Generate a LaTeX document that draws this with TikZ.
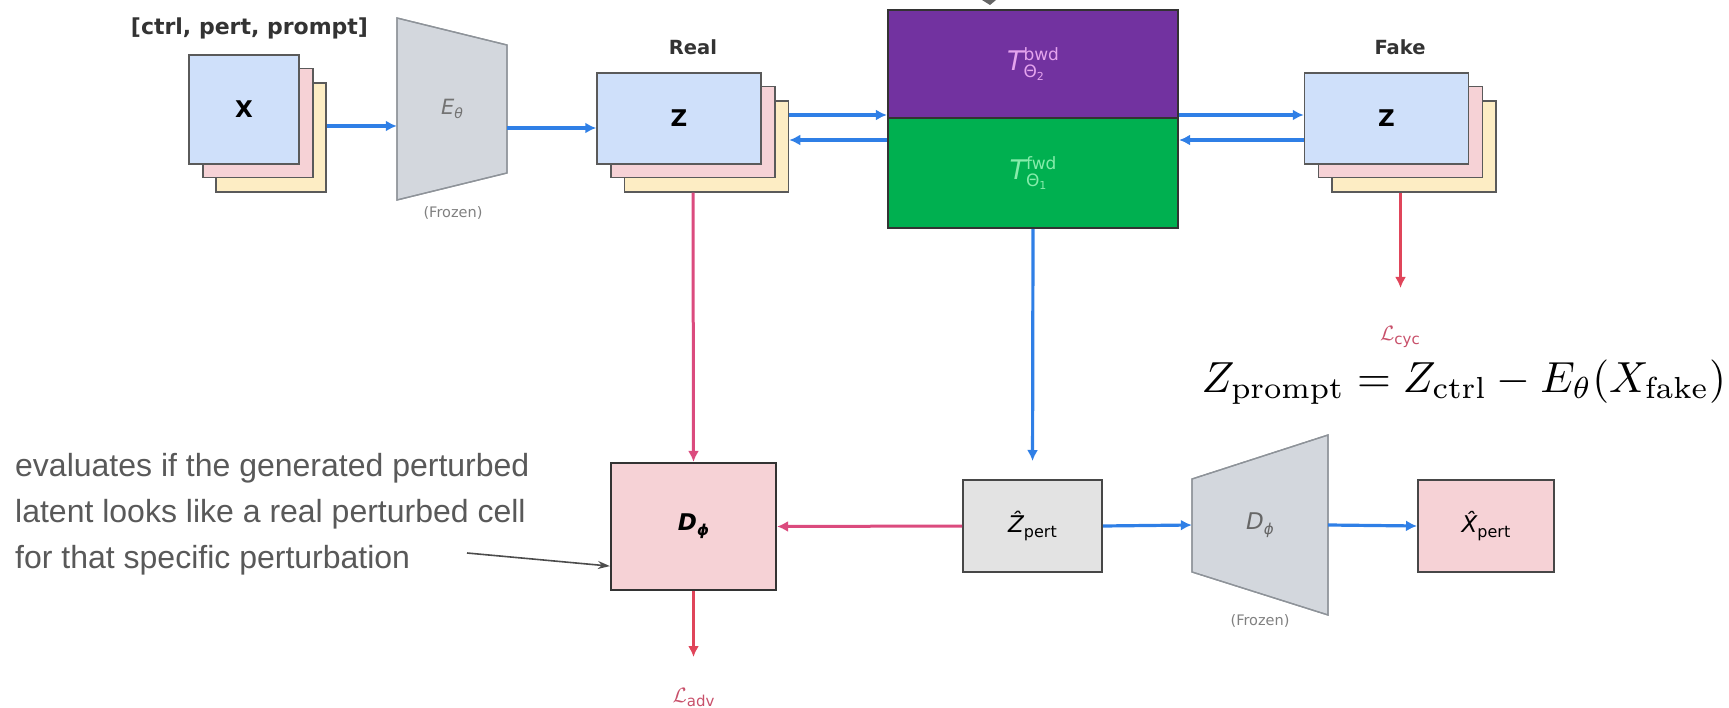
\documentclass[tikz,border=0pt]{standalone}
\usepackage{fontspec}
\usetikzlibrary{arrows.meta,calc}
\newfontfamily\dejavu{DejaVu Sans}
\newfontfamily\arialf{Liberation Sans}
\newcommand{\fs}[1]{\fontsize{#1}{#1}\selectfont}
\definecolor{cblue}{HTML}{CFE0FA}
\definecolor{cpink}{HTML}{F6D2D6}
\definecolor{cyel}{HTML}{FDEDC4}
\definecolor{bord}{HTML}{5A5A5A}
\definecolor{trapfill}{HTML}{D3D7DD}
\definecolor{trapdraw}{HTML}{8E9399}
\definecolor{tpurple}{HTML}{7232A0}
\definecolor{tgreen}{HTML}{00B050}
\definecolor{arrblue}{HTML}{2F7FE6}
\definecolor{arrpink}{HTML}{DB4B7E}
\definecolor{arrred}{HTML}{E0455A}
\definecolor{lossc}{HTML}{C8506A}
\definecolor{lblbwd}{HTML}{E5A4EE}
\definecolor{lblfwd}{HTML}{86ECAB}
\definecolor{notegray}{HTML}{595959}
\begin{document}
\begin{tikzpicture}[x=1pt,y=-1pt,
  layer/.style={draw=bord, line width=1.5pt, inner sep=0pt},
  stk/.style={layer, minimum width=164pt, minimum height=91pt},
  xstk/.style={layer, minimum width=110pt, minimum height=109pt},
  trap/.style={fill=trapfill, draw=trapdraw, line width=1.3pt},
  sbox/.style={draw=black!80, line width=2.2pt, inner sep=0pt},
  barrow/.style={draw=arrblue, line width=3.2pt, -{Latex[length=11pt,width=11pt]}},
  parrow/.style={draw=arrpink, line width=3pt, -{Latex[length=11pt,width=11pt]}},
  rarrow/.style={draw=arrred, line width=3pt, -{Latex[length=11pt,width=11pt]}},
  notearrow/.style={draw=black!70, line width=1.6pt, -{Stealth[length=12pt,width=8pt]}},
  boldlbl/.style={font=\dejavu\bfseries\fs{22}, text=black!80},
  frozen/.style={font=\dejavu\fs{14.5}, text=black!50},
  losslbl/.style={text=lossc, font=\fs{21}, inner sep=0pt},
  notetxt/.style={font=\arialf\fs{32}, text=notegray, anchor=base west, inner sep=0pt}
]
\useasboundingbox (0,0) rectangle (1729,708);

% rows
\coordinate (r1) at (0,126);
\coordinate (r2) at (0,128);
\coordinate (r3) at (0,115);
\coordinate (r4) at (0,140);

% input stack X
\node[boldlbl] (lblin) at (249.5,28) {[ctrl, pert, prompt]};
\node[xstk, fill=cyel] (x3) at (271,137.5) {};
\node[xstk, fill=cpink] (x2) at (258,123) {};
\node[xstk, fill=cblue, font=\dejavu\bfseries\fs{23}] (x1) at (244,109.5) {X};

% encoder
\fill[trap] (397,18) -- (507,45) -- (507,173) -- (397,200) -- cycle;
\draw[trap, fill=none] (397,18) -- (507,45) -- (507,173) -- (397,200) -- cycle;
\node[minimum width=110pt, minimum height=128pt, inner sep=0pt, text=black!55] (enc) at (452,109)
  {\dejavu\fs{21}\itshape E\raisebox{-4pt}{\fs{14}θ}};
\node[frozen] (frz1) at (453,213) {(Frozen)};

% real stack
\node[boldlbl, font=\dejavu\bfseries\fs{19.5}] (lblreal) at (693,47) {Real};
\node[stk, fill=cyel] (z3) at (706.5,146.5) {};
\node[stk, fill=cpink] (z2) at (693,132) {};
\node[stk, fill=cblue, font=\dejavu\bfseries\fs{23}] (z1) at (679,118.5) {Z};

% transformer blocks
\node[sbox, fill=tpurple, minimum width=290pt, minimum height=108pt, text=lblbwd] (tb) at (1033,64)
  {\dejavu\fs{27}\itshape T\upshape\rlap{\raisebox{-7pt}{\fs{17}Θ\raisebox{-3pt}{\fs{11}2}}}\raisebox{10pt}{\fs{17}bwd}};
\node[sbox, fill=tgreen, minimum width=290pt, minimum height=110pt, text=lblfwd] (tf) at (1033,173)
  {\dejavu\fs{27}\itshape T\upshape\rlap{\raisebox{-7pt}{\fs{17}Θ\raisebox{-3pt}{\fs{11}1}}}\raisebox{10pt}{\fs{17}fwd}};

% fake stack
\node[boldlbl, font=\dejavu\bfseries\fs{19.5}] (lblfake) at (1400,47) {Fake};
\node[stk, fill=cyel] (f3) at (1414,146.5) {};
\node[stk, fill=cpink] (f2) at (1400.5,132) {};
\node[stk, fill=cblue, font=\dejavu\bfseries\fs{23}] (f1) at (1386.5,118.5) {Z};

% bottom row
\node[sbox, draw=black!80, fill=cpink, minimum width=165pt, minimum height=127pt] (dphi) at (693.5,526.5)
  {\dejavu\fs{23}\bfseries\itshape D\raisebox{-5pt}{\fs{15}ϕ}};
\node[sbox, draw=black!72, line width=2pt, fill=black!11, minimum width=139pt, minimum height=92pt] (zp) at (1032.5,526)
  {\dejavu\fs{23}\itshape Ẑ\upshape\raisebox{-5pt}{\fs{16}pert}};
\fill[trap] (1192,479) -- (1328,435) -- (1328,615) -- (1192,572) -- cycle;
\draw[trap, fill=none] (1192,479) -- (1328,435) -- (1328,615) -- (1192,572) -- cycle;
\node[minimum width=136pt, minimum height=93pt, inner sep=0pt, text=black!60] (dec) at (1260,525)
  {\dejavu\fs{23}\itshape D\raisebox{-5pt}{\fs{15}ϕ}};
\node[frozen] (frz2) at (1260,621) {(Frozen)};
\node[sbox, draw=black!72, line width=2pt, fill=cpink, minimum width=136pt, minimum height=92pt] (xp) at (1486,526)
  {\dejavu\fs{23}\itshape X̂\upshape\raisebox{-5pt}{\fs{16}pert}};

% losses
\coordinate (lcyctip) at (1400.5,288);
\node[losslbl] (lcyc) at (1400,337) {$\mathcal{L}$\raisebox{-4pt}{\dejavu\fs{15}cyc}};
\coordinate (ladvtip) at (693.5,657);
\node[losslbl] (ladv) at (693.5,698) {$\mathcal{L}$\raisebox{-4pt}{\dejavu\fs{15}adv}};

% equation
\node[anchor=base east, scale=4.35, inner sep=0pt] (eq) at (1727,392)
  {$Z_{\mathrm{prompt}} = Z_{\mathrm{ctrl}} - E_\theta(X_{\mathrm{fake}})$};

% annotation
\node[notetxt] (note1) at (15,476) {evaluates if the generated perturbed};
\node[notetxt] (note2) at (15,522) {latent looks like a real perturbed cell};
\node[notetxt] (note3) at (15,568) {for that specific perturbation};
\coordinate (notetail) at (467,553);

% cut-off arrow tip at the top
\fill[black!60] (982,0) -- (996,0) -- (990,5) -- cycle;

% connectors
\draw[barrow] (x3.east |- r1) -- (enc.west |- r1);
\draw[barrow] (enc.east |- r2) -- (z1.west |- r2);
\draw[barrow] (z3.east |- r3) -- (tb.west |- r3);
\draw[barrow] (tb.west |- r4) -- (z3.east |- r4);
\draw[barrow] (tb.east |- r3) -- (f1.west |- r3);
\draw[barrow] (f1.west |- r4) -- (tb.east |- r4);
\draw[parrow] (z2 |- z3.south) -- (dphi.north);
\draw[rarrow] (f2 |- f3.south) -- (lcyctip);
\draw[barrow, shorten >=18pt] (tf.south) -- (zp.north);
\draw[parrow] (zp.west) -- (dphi.east);
\draw[barrow] (zp.east) -- (dec.west);
\draw[barrow] (dec.east) -- (xp.west);
\draw[rarrow] (dphi.south) -- (ladvtip);
\draw[notearrow] (notetail) -- ([yshift=25pt]dphi.south west);
\end{tikzpicture}
\end{document}
